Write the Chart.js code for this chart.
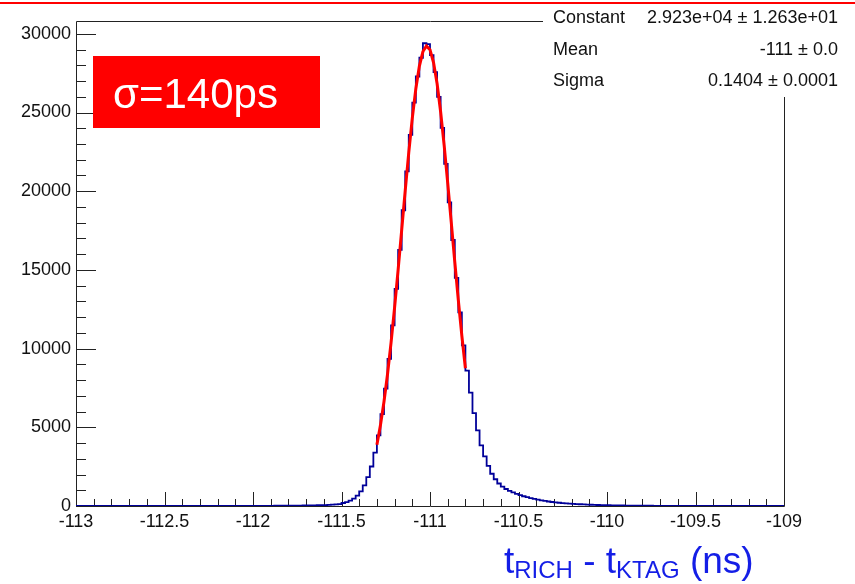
<!DOCTYPE html>
<html>
<head>
<meta charset="utf-8">
<title>t_RICH - t_KTAG</title>
<script src="https://cdn.jsdelivr.net/npm/chart.js@4.4.1/dist/chart.umd.min.js"></script>
<style>
  html, body { margin: 0; padding: 0; background: #fff; }
  canvas { display: block; }
</style>
</head>
<body>
<canvas id="timeChart" width="855" height="584"></canvas>
<script>
// histogram binning (ns)
var binStart = -113;
var binWidth = 0.02;

// entries per 0.02 ns bin, from -113 to -109
var counts = [
  // -113.00 .. -112.02
  3, 0, 2, 4, 0, 3, 1, 0, 2, 0, 1, 2, 0, 3, 0, 1, 0, 2, 1, 0,
  2, 0, 1, 3, 0, 2, 1, 0, 2, 3, 1, 2, 3, 2, 4, 3, 2, 4, 3, 5,
  4, 3, 5, 4, 6, 5, 6, 7, 6, 7,
  // -112.00 .. -111.52
  8, 9, 10, 11, 12, 13, 15, 16, 18, 20, 22, 24, 26, 29, 32, 35, 38, 42, 47, 53,
  60, 70, 82, 98, 125,
  // -111.50 .. -110.52 (peak)
  190, 250, 340, 470, 660, 930, 1310, 1830, 2510, 3390,
  4490, 5840, 7460, 9350, 11480, 13800, 16270, 18790, 21260, 23580,
  25630, 27290, 28480, 29400, 29350, 28650, 27570, 26000, 24020, 21740,
  19290, 16900, 14500, 12300, 10200, 8600, 7200, 5900, 4800, 3850,
  3150, 2550, 2050, 1700, 1430, 1230, 1080, 960, 860, 770,
  // -110.50 .. -110.02
  690, 620, 560, 500, 450, 400, 360, 320, 285, 255, 230, 205, 185, 165, 150,
  135, 120, 110, 100, 90, 80, 72, 65, 58, 52,
  // -110.00 .. -109.52
  47, 43, 39, 35, 32, 29, 26, 24, 22, 20, 18, 16, 15, 14, 12, 11, 10, 9, 8, 7,
  6, 6, 5, 5, 4,
  // -109.50 .. -109.02
  4, 3, 3, 3, 2, 2, 2, 2, 1, 1, 1, 1, 1, 1, 1, 0, 1, 0, 0, 0, 0, 0, 0, 0, 0
];

// gaus fit, sampled over the fit range
var fitStart = -111.30;
var fitStep = 0.02;
var fitValues = [
  3888, 5124, 6618, 8374, 10383, 12616, 15021, 17526, 20040, 22452,
  24647, 26515, 27950, 28873, 29230, 28991, 28178, 26839, 25050, 22911,
  20531, 18032, 15518, 13086, 10812, 8754
];

// stat box
var statNames = ['Constant', 'Mean', 'Sigma'];
var statValues = ['2.923e+04 \u00b1 1.263e+01', '-111 \u00b1 0.0', '0.1404 \u00b1 0.0001'];
var resolutionLabel = '\u03c3=140ps';

// axis ranges and labelled ticks
var xMin = -113, xMax = -109, xMinor = 0.1;
var xTickValues = [-113, -112.5, -112, -111.5, -111, -110.5, -110, -109.5, -109];
var yMin = 0, yMax = 30815, yMinor = 1000;
var yTickValues = [0, 5000, 10000, 15000, 20000, 25000, 30000];

var font = '"Liberation Sans", Arial, Helvetica, sans-serif';

var histPoints = [];
for (var i = 0; i < counts.length; i++) {
  histPoints.push({ x: binStart + i * binWidth, y: counts[i] });
}
histPoints.push({ x: binStart + counts.length * binWidth, y: counts[counts.length - 1] });

var fitPoints = fitValues.map(function(v, i) {
  return { x: fitStart + i * fitStep, y: v };
});

function isMajor(v, list) {
  return list.some(function(t) { return Math.abs(t - v) < 1e-6; });
}

// frame, inward tick marks, stat box, label boxes
var rootStyle = {
  id: 'rootStyle',
  beforeDatasetsDraw: function(chart) {
    var ctx = chart.ctx;
    var a = chart.chartArea;
    var xs = chart.scales.x, ys = chart.scales.y;
    ctx.save();
    ctx.strokeStyle = '#222';
    ctx.lineWidth = 1;
    ctx.beginPath();
    ctx.moveTo(Math.round(a.left) + 0.5, Math.round(a.top) + 0.5);
    ctx.lineTo(Math.round(a.right) + 0.5, Math.round(a.top) + 0.5);
    ctx.lineTo(Math.round(a.right) + 0.5, Math.round(a.bottom) + 0.5);
    ctx.lineTo(Math.round(a.left) + 0.5, Math.round(a.bottom) + 0.5);
    ctx.closePath();
    ctx.stroke();

    var nx = Math.round((xMax - xMin) / xMinor);
    for (var i = 0; i <= nx; i++) {
      var xv = Math.round((xMin + i * xMinor) * 10) / 10;
      var px = Math.round(xs.getPixelForValue(xv)) + 0.5;
      var len = isMajor(xv, xTickValues) ? 14 : 7;
      ctx.beginPath();
      ctx.moveTo(px, a.bottom);
      ctx.lineTo(px, a.bottom - len);
      ctx.stroke();
    }
    var ny = Math.floor((yMax - yMin) / yMinor);
    for (var j = 0; j <= ny; j++) {
      var yv = yMin + j * yMinor;
      var py = Math.round(ys.getPixelForValue(yv)) + 0.5;
      var l = isMajor(yv, yTickValues) ? 20 : 10;
      ctx.beginPath();
      ctx.moveTo(a.left, py);
      ctx.lineTo(a.left + l, py);
      ctx.stroke();
    }
    ctx.restore();
  },
  afterDraw: function(chart) {
    var ctx = chart.ctx;
    ctx.save();

    // stat box
    ctx.fillStyle = '#fff';
    ctx.fillRect(543, 0, 312, 97);
    ctx.fillStyle = '#111';
    ctx.font = '18px ' + font;
    ctx.textBaseline = 'alphabetic';
    for (var i = 0; i < statNames.length; i++) {
      var by = 23 + i * 31.5;
      ctx.textAlign = 'left';
      ctx.fillText(statNames[i], 553, by);
      ctx.textAlign = 'right';
      ctx.fillText(statValues[i], 838, by);
    }

    // resolution label
    ctx.fillStyle = '#ff0000';
    ctx.fillRect(93, 56, 227, 72);
    ctx.fillStyle = '#fff';
    ctx.textAlign = 'left';
    ctx.font = '42px ' + font;
    ctx.fillText(resolutionLabel, 113, 108);

    // x axis title with subscripts
    var parts = [
      ['t', 37, 0], ['RICH', 24, 5], [' - ', 37, 0],
      ['t', 37, 0], ['KTAG', 24, 5], [' (ns)', 37, 0]
    ];
    ctx.fillStyle = 'rgb(20, 30, 230)';
    var tx = 504;
    parts.forEach(function(p) {
      ctx.font = p[1] + 'px ' + font;
      ctx.fillText(p[0], tx, 573 + p[2]);
      tx += ctx.measureText(p[0]).width;
    });

    // slide rule line on top
    ctx.fillStyle = '#ff0000';
    ctx.fillRect(0, 2, 855, 2);
    ctx.restore();
  }
};

var ctx = document.getElementById('timeChart');

var timeChart = new Chart(ctx.getContext('2d'), {
  type: 'line',
  data: {
    datasets: [{
      label: 'fit',
      data: fitPoints,
      borderColor: '#ff0000',
      borderWidth: 3,
      pointRadius: 0,
      tension: 0,
      order: 0
    }, {
      label: 'hist',
      data: histPoints,
      borderColor: '#000099',
      borderWidth: 1.8,
      pointRadius: 0,
      stepped: true,
      order: 1
    }]
  },
  options: {
    responsive: false,
    animation: false,
    parsing: false,
    layout: { padding: { top: 21, right: 71, left: 0, bottom: 0 } },
    plugins: {
      legend: { display: false },
      tooltip: { enabled: false }
    },
    scales: {
      x: {
        type: 'linear',
        min: xMin,
        max: xMax,
        afterFit: function(s) { s.height = 78; },
        afterBuildTicks: function(s) {
          s.ticks = xTickValues.map(function(v) { return { value: v }; });
        },
        border: { display: false },
        grid: { display: false, drawTicks: false },
        ticks: {
          padding: 5,
          maxRotation: 0,
          autoSkip: false,
          color: '#111',
          font: { family: font, size: 18 },
          callback: function(v) { return String(Math.round(v * 10) / 10); }
        }
      },
      y: {
        type: 'linear',
        min: yMin,
        max: yMax,
        afterFit: function(s) { s.width = 76; },
        afterBuildTicks: function(s) {
          s.ticks = yTickValues.map(function(v) { return { value: v }; });
        },
        border: { display: false },
        grid: { display: false, drawTicks: false },
        ticks: {
          padding: 5,
          autoSkip: false,
          color: '#111',
          font: { family: font, size: 18 },
          callback: function(v) { return String(v); }
        }
      }
    }
  },
  plugins: [rootStyle]
});
</script>
</body>
</html>
